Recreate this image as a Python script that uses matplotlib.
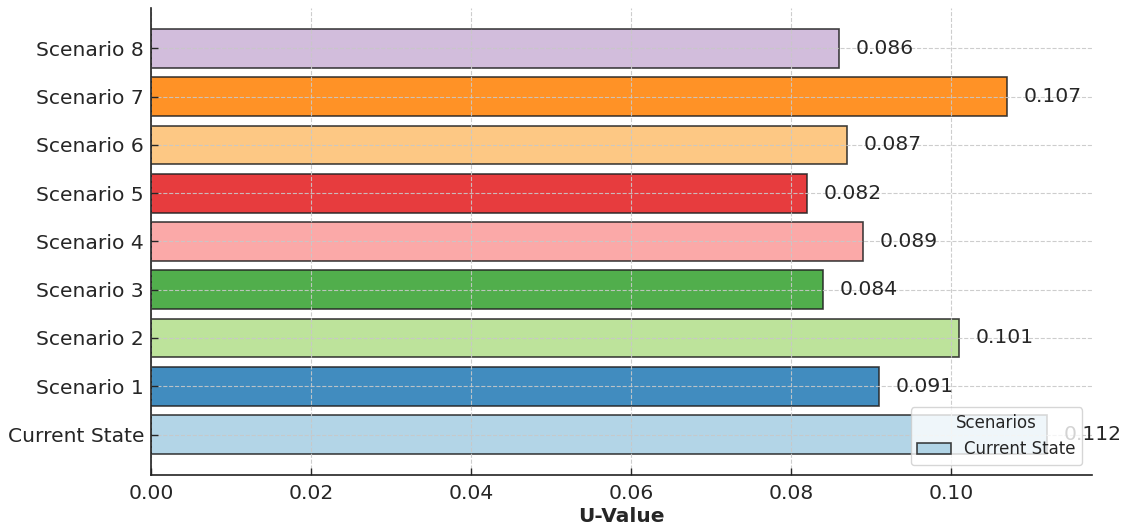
import matplotlib
matplotlib.use("Agg")
import matplotlib.pyplot as plt

categories = ["Current State", "Scenario 1", "Scenario 2", "Scenario 3", "Scenario 4",
              "Scenario 5", "Scenario 6", "Scenario 7", "Scenario 8"]
u_values = [0.112, 0.091, 0.101, 0.084, 0.089, 0.082, 0.087, 0.107, 0.086]
x_ticks = [0.00, 0.02, 0.04, 0.06, 0.08, 0.10]

colors = plt.get_cmap("Paired").colors[:len(categories)]
text_color = "#262626"

fig = plt.figure(figsize=(11.27, 5.29), dpi=100)
ax = fig.add_axes([0.134, 0.102, 0.835, 0.883])

bars = ax.barh(categories, u_values, height=0.8, color=colors, alpha=0.85,
               edgecolor="#222222", linewidth=1.2)
bars[0].set_label("Current State")

for bar, v in zip(bars, u_values):
    ax.text(v + 0.002, bar.get_y() + bar.get_height() / 2, f"{v:.3f}",
            va="center", ha="left", fontsize=14.6, color=text_color)

ax.set_xlim(0, max(u_values) * 1.05)
ax.set_xticks(x_ticks)
ax.set_xticklabels([f"{t:.2f}" for t in x_ticks])
ax.set_xlabel("U-Value", fontsize=14.5, fontweight="bold", color=text_color, labelpad=3)

ax.grid(True, linestyle="--", color="#c8c8c8", linewidth=0.8, alpha=0.9)
ax.set_axisbelow(False)
for s in ["top", "right"]:
    ax.spines[s].set_visible(False)
for s in ["left", "bottom"]:
    ax.spines[s].set_color("#222222")
    ax.spines[s].set_linewidth(1.2)
    ax.spines[s].set_zorder(4)
ax.tick_params(axis="both", labelsize=14.6, colors=text_color, length=5, width=1.0,
               direction="in")
ax.tick_params(axis="x", pad=6.5)
ax.tick_params(axis="y", pad=5)

leg = ax.legend(title="Scenarios", loc="lower right", fontsize=12, title_fontsize=12,
                frameon=True, framealpha=0.8, edgecolor="#cccccc", borderaxespad=0.6)
for t in leg.get_texts():
    t.set_color(text_color)
leg.get_title().set_color(text_color)

fig.savefig("out.png", dpi=100)
